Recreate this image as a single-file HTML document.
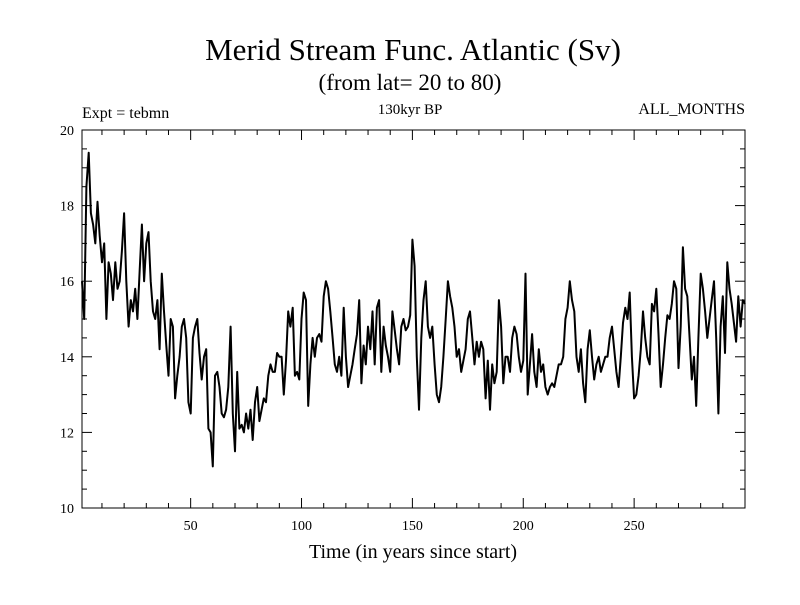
<!DOCTYPE html>
<html><head><meta charset="utf-8"><style>
body{margin:0;background:#fff}
svg text{font-family:"Liberation Serif",serif;fill:#000}
</style></head><body>
<svg id="c" width="800" height="600">
<text x="413" y="60" font-size="31" text-anchor="middle">Merid Stream Func. Atlantic (Sv)</text>
<text x="410" y="90" font-size="23" text-anchor="middle">(from lat= 20 to 80)</text>
<text x="82" y="118" font-size="16">Expt = tebmn</text>
<text x="410" y="114" font-size="15" text-anchor="middle">130kyr BP</text>
<text x="745" y="114" font-size="16" text-anchor="end">ALL_MONTHS</text>
<text x="413" y="558" font-size="20" text-anchor="middle">Time (in years since start)</text>
<g id="axes"></g>
</svg>
<script>
const years=[];for(let i=1;i<=300;i++)years.push(i);
const values=[
16.0,15.0,18.5,19.4,17.8,17.5,17.0,18.1,17.2,16.5,
17.0,15.0,16.5,16.2,15.5,16.5,15.8,16.0,16.8,17.8,
16.0,14.8,15.5,15.2,15.8,15.0,16.3,17.5,16.0,17.0,
17.3,16.0,15.2,15.0,15.5,14.2,16.2,15.2,14.3,13.5,
15.0,14.8,12.9,13.5,14.0,14.8,15.0,14.5,12.8,12.5,
14.5,14.8,15.0,14.1,13.4,14.0,14.2,12.1,12.0,11.1,
13.5,13.6,13.2,12.5,12.4,12.6,13.2,14.8,12.5,11.5,
13.6,12.1,12.2,12.0,12.5,12.1,12.6,11.8,12.8,13.2,
12.3,12.6,12.9,12.8,13.5,13.8,13.6,13.6,14.1,14.0,
14.0,13.0,13.9,15.2,14.8,15.3,13.5,13.6,13.4,15.0,
15.7,15.5,12.7,13.8,14.5,14.0,14.5,14.6,14.4,15.6,
16.0,15.8,15.2,14.5,13.8,13.6,14.0,13.5,15.3,14.0,
13.2,13.5,13.8,14.2,14.6,15.5,13.3,14.3,13.8,14.8,
14.2,15.2,13.8,15.3,15.5,13.6,14.8,14.3,14.0,13.6,
15.2,14.7,14.2,13.8,14.8,15.0,14.7,14.8,15.1,17.1,
16.4,14.0,12.6,14.5,15.5,16.0,14.8,14.5,14.8,13.8,
13.0,12.8,13.2,14.0,15.0,16.0,15.6,15.3,14.8,14.0,
14.2,13.6,13.9,14.2,15.0,15.2,14.5,13.8,14.4,14.0,
14.4,14.2,12.9,13.9,12.6,13.8,13.3,13.6,15.5,14.8,
13.3,14.0,14.0,13.6,14.5,14.8,14.6,14.0,13.6,13.9,
16.2,13.0,13.8,14.6,13.6,13.2,14.2,13.6,13.8,13.2,
13.0,13.2,13.3,13.2,13.5,13.8,13.8,14.0,15.0,15.3,
16.0,15.5,15.2,14.0,13.6,14.2,13.3,12.8,14.2,14.7,
14.0,13.4,13.8,14.0,13.6,13.8,14.0,14.0,14.5,14.8,
14.2,13.6,13.2,14.0,14.9,15.3,15.0,15.7,14.0,12.9,
13.0,13.5,14.2,15.2,14.5,14.0,13.8,15.4,15.2,15.8,
14.6,13.2,13.8,14.5,15.1,15.0,15.4,16.0,15.8,13.7,
14.8,16.9,15.8,15.6,14.5,13.4,14.0,12.7,14.5,16.2,
15.8,15.2,14.5,15.0,15.5,16.0,14.5,12.5,14.8,15.6,
14.1,16.5,15.8,15.4,14.9,14.4,15.6,14.8,15.5,15.4];
const yTicks=[10,12,14,16,18,20];
const xTicks=[50,100,150,200,250];
const L=82,R=745,T=130,B=508,X0=1,X1=300,Y0=10,Y1=20;
const sx=v=>L+(v-X0)/(X1-X0)*(R-L), sy=v=>B-(v-Y0)/(Y1-Y0)*(B-T);
const NS='http://www.w3.org/2000/svg', g=document.getElementById('axes');
function mk(t,a){const e=document.createElementNS(NS,t);for(const k in a)e.setAttribute(k,a[k]);g.appendChild(e);return e;}
const frame=mk('rect',{x:L,y:T,width:R-L,height:B-T,fill:'none',stroke:'#000','stroke-width':1});


for(let v=Y0;v<=Y1+1e-9;v+=0.5){const maj=Math.abs(v%2)<1e-9,len=maj?10:5,y=sy(v);
 const t1=mk('line',{x1:L,x2:L+len,y1:y,y2:y,stroke:'#000'});
 
 
 const t2=mk('line',{x1:R,x2:R-len,y1:y,y2:y,stroke:'#000'});
 
 }
yTicks.forEach(v=>{const t=mk('text',{x:L-8,y:sy(v)+5,'font-size':14,'text-anchor':'end'});t.textContent=v;
 
 });
for(let v=10;v<=300;v+=10){const maj=v%50===0,len=maj?10:5,x=sx(v);
 const t1=mk('line',{x1:x,x2:x,y1:B,y2:B-len,stroke:'#000'});
 
 
 const t2=mk('line',{x1:x,x2:x,y1:T,y2:T+len,stroke:'#000'});
 
 }
xTicks.forEach(v=>{const t=mk('text',{x:sx(v),y:B+22,'font-size':14,'text-anchor':'middle'});t.textContent=v;
 
 });
const d=values.map((v,i)=>(i?'L':'M')+sx(years[i]).toFixed(1)+' '+sy(v).toFixed(1)).join(' ');
const line=mk('path',{d:d,fill:'none',stroke:'#000','stroke-width':2,'stroke-linejoin':'round'});


</script>
</body></html>
